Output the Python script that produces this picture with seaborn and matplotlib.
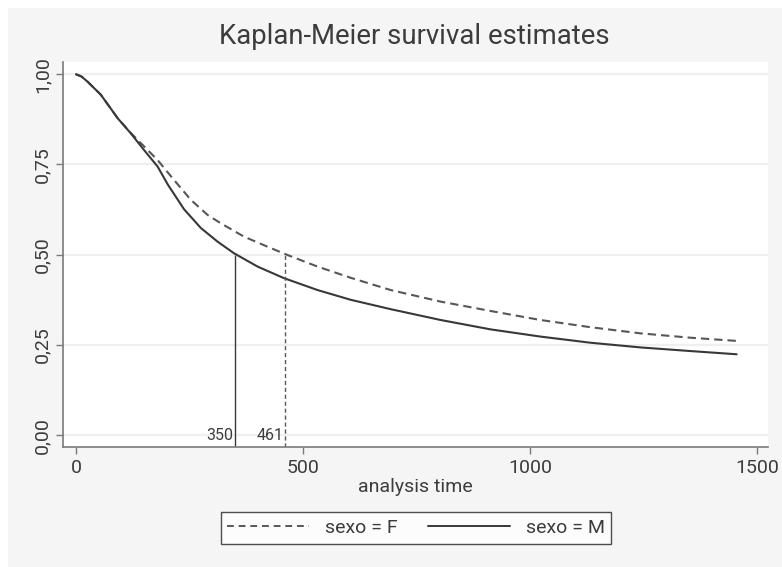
import numpy as np
import pandas as pd
import matplotlib.pyplot as plt
import seaborn as sns
from matplotlib.patches import Rectangle

# Datos (tiempo, supervivencia)
t_m = [0, 12, 26, 55, 92, 121, 150, 180, 202, 238, 275, 312, 348, 400, 458, 532, 605,
       693, 803, 913, 1023, 1133, 1243, 1352, 1455]
s_m = [1.0, 0.994, 0.979, 0.943, 0.878, 0.836, 0.79, 0.744, 0.695, 0.626, 0.574, 0.536, 0.504,
       0.467, 0.435, 0.402, 0.375, 0.349, 0.319, 0.293, 0.273, 0.256, 0.243, 0.233, 0.224]

t_f = [0, 12, 26, 55, 92, 121, 136, 180, 216, 253, 290, 319, 370, 422, 466, 532, 605,
       693, 803, 913, 1023, 1133, 1243, 1352, 1455]
s_f = [1.0, 0.994, 0.979, 0.943, 0.878, 0.837, 0.818, 0.762, 0.707, 0.652, 0.61, 0.587, 0.55,
       0.522, 0.499, 0.467, 0.436, 0.402, 0.37, 0.344, 0.319, 0.299, 0.282, 0.27, 0.261]

grupos = ["sexo = F", "sexo = M"]
medianas = {"sexo = F": 461, "sexo = M": 350}

df = pd.concat([
    pd.DataFrame({"tiempo": t_f, "surv": s_f, "grupo": "sexo = F"}),
    pd.DataFrame({"tiempo": t_m, "surv": s_m, "grupo": "sexo = M"}),
])

sns.set_style("white")
plt.rcParams["font.family"] = ["Roboto", "DejaVu Sans"]

colores = {"sexo = F": "#575757", "sexo = M": "#383838"}
texto = "#3c3c3c"

fig = plt.figure(figsize=(7.82, 5.67), dpi=100, facecolor="#f5f5f5")
# franja blanca arriba y a la izquierda
fig.patches.append(Rectangle((0, 0), 7 / 782, 1, transform=fig.transFigure, color="white", zorder=0))
fig.patches.append(Rectangle((0, 1 - 7 / 567), 1, 7 / 567, transform=fig.transFigure, color="white", zorder=0))

ax = fig.add_axes([63 / 782, 1 - 447 / 567, (768 - 63) / 782, (447 - 62) / 567])
ax.set_facecolor("white")

sns.lineplot(data=df, x="tiempo", y="surv", hue="grupo", style="grupo",
             palette=colores, dashes={"sexo = F": (4, 2.4), "sexo = M": ""},
             linewidth=1.5, ax=ax, legend=False, sort=False)

# lineas de la mediana
for g in grupos:
    m = medianas[g]
    ls = (0, (3, 2)) if g == "sexo = F" else "-"
    ax.vlines(m, -0.033, 0.5, colors=colores[g], linestyles=ls, linewidth=1.0)
    ax.text(m - 4, 0.0, str(m), ha="right", va="center", fontsize=11.5, color=texto)

ax.set_xlim(-28.5, 1524)
ax.set_ylim(-0.033, 1.034)
ax.set_xticks([0, 500, 1000, 1500])
ax.set_yticks([0, 0.25, 0.5, 0.75, 1.0])
ax.set_yticklabels(["0,00", "0,25", "0,50", "0,75", "1,00"], rotation=90, va="center")
ax.tick_params(axis="both", direction="out", length=5, width=1, color="#7a7a7a",
               labelsize=14, labelcolor=texto, left=True, bottom=True)
ax.yaxis.grid(True, color="#efefef", linewidth=1.6)
ax.xaxis.grid(False)
for s in ["top", "right"]:
    ax.spines[s].set_visible(False)
for s in ["left", "bottom"]:
    ax.spines[s].set_color("#7a7a7a")
    ax.spines[s].set_linewidth(1.2)

ax.set_xlabel("analysis time", fontsize=14, color=texto, labelpad=1)
ax.set_ylabel("")
fig.text(414 / 782, 1 - 37 / 567, "Kaplan-Meier survival estimates", ha="center", va="center",
         fontsize=19.8, color=texto)

handles = [plt.Line2D([], [], color=colores["sexo = F"], linestyle=(0, (3.5, 2.5)), linewidth=1.4),
           plt.Line2D([], [], color=colores["sexo = M"], linestyle="-", linewidth=1.4)]
leg = fig.legend(handles, grupos, loc="center", bbox_to_anchor=(416 / 782, 1 - 528 / 567), ncol=2,
                 frameon=True, fancybox=False, edgecolor="#222222", fontsize=14, handlelength=4.2,
                 columnspacing=1.6, borderpad=0.35, labelcolor=texto)
leg.get_frame().set_linewidth(1.0)

plt.savefig("out.png", dpi=100, facecolor=fig.get_facecolor())
